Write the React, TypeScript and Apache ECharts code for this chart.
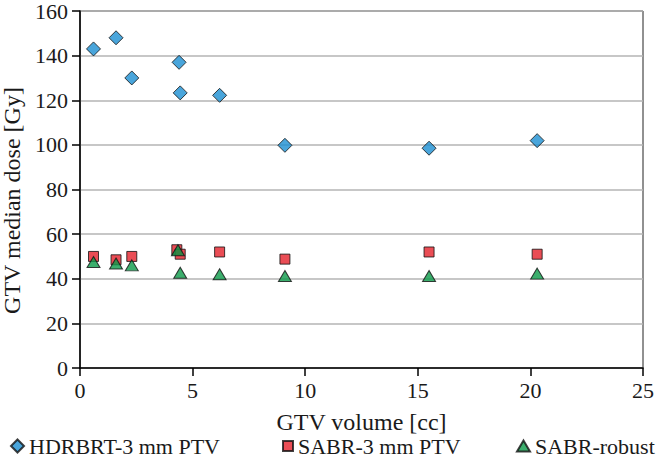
import React, { useEffect, useRef } from "react";
import * as echarts from "echarts";

const hdrX = [0.6, 1.6, 2.3, 4.4, 4.45, 6.2, 9.1, 15.5, 20.3];
const hdrY = [143, 148, 130, 137, 123.3, 122.2, 99.8, 98.5, 101.9];
const sabrX = [0.6, 1.6, 2.3, 4.3, 4.45, 6.2, 9.1, 15.5, 20.3];
const sabrY = [50, 48.5, 50, 53, 51, 52, 48.8, 52, 51];
const robustX = [0.6, 1.6, 2.3, 4.35, 4.45, 6.2, 9.1, 15.5, 20.3];
const robustY = [47.5, 46.8, 46, 52.8, 42.7, 42, 41.2, 41.2, 42.3];

const seriesNames = ["HDRBRT-3 mm PTV", "SABR-3 mm PTV", "SABR-robust"];
const xTitle = "GTV volume [cc]";
const yTitle = "GTV median dose [Gy]";

const FONT = "'Liberation Serif', serif";

export default function App() {
  const ref = useRef<HTMLDivElement>(null);
  useEffect(() => {
    document.body.style.margin = "0";
    const chart = echarts.init(ref.current!, null, { renderer: "svg" });
    const pts = (xs: number[], ys: number[]) => xs.map((x, i) => [x, ys[i]]);
    const legendText = { fontFamily: FONT, fontSize: 22, color: "#1a1a1a", lineHeight: 18 };
    chart.setOption({
      animation: false,
      backgroundColor: "#fff",
      textStyle: { fontFamily: FONT },
      grid: {
        left: 80,
        right: 21,
        top: 11,
        bottom: 91,
        show: true,
        borderColor: "#222",
        borderWidth: 1,
        containLabel: false,
        outerBoundsMode: "none",
      },
      xAxis: {
        type: "value",
        min: 0,
        max: 25,
        interval: 5,
        name: xTitle,
        nameLocation: "middle",
        nameGap: 42,
        nameTextStyle: { fontFamily: FONT, fontSize: 24, color: "#1a1a1a" },
        axisLine: { lineStyle: { color: "#000", width: 1.5 } },
        axisTick: { show: true, length: 8, lineStyle: { color: "#000", width: 1.5 } },
        axisLabel: { fontFamily: FONT, fontSize: 22, color: "#1a1a1a", margin: 11 },
        splitLine: { show: false },
      },
      yAxis: {
        type: "value",
        min: 0,
        max: 160,
        interval: 20,
        name: yTitle,
        nameLocation: "middle",
        nameGap: 54,
        nameTextStyle: {
          fontFamily: FONT,
          fontSize: 24,
          color: "#1a1a1a",
          padding: [0, 22, 0, 0],
        },
        axisLine: { show: true, lineStyle: { color: "#000", width: 1.5 } },
        axisTick: { show: true, length: 8, lineStyle: { color: "#000", width: 1.5 } },
        axisLabel: {
          fontFamily: FONT,
          fontSize: 22,
          lineHeight: 18,
          color: "#1a1a1a",
          margin: 12,
        },
        splitLine: { show: true, lineStyle: { color: "#b4b4b4", width: 1.5 } },
      },
      legend: [
        {
          data: [seriesNames[0]],
          left: 5,
          top: 430,
          itemWidth: 13,
          itemHeight: 13,
          textStyle: legendText,
        },
        {
          data: [seriesNames[1]],
          left: 277,
          top: 430,
          itemWidth: 10,
          itemHeight: 10,
          textStyle: legendText,
        },
        {
          data: [seriesNames[2]],
          left: 511,
          top: 430,
          itemWidth: 13,
          itemHeight: 11,
          textStyle: legendText,
        },
      ],
      series: [
        {
          name: seriesNames[0],
          type: "scatter",
          symbol: "diamond",
          symbolSize: 14,
          data: pts(hdrX, hdrY),
          itemStyle: { color: "#1b8fd2", borderColor: "#111", borderWidth: 1 },
        },
        {
          name: seriesNames[1],
          type: "scatter",
          symbol: "rect",
          symbolSize: 10,
          data: pts(sabrX, sabrY),
          itemStyle: { color: "#e5202a", borderColor: "#111", borderWidth: 1 },
        },
        {
          name: seriesNames[2],
          type: "scatter",
          symbol: "triangle",
          symbolSize: [13, 11],
          data: pts(robustX, robustY),
          itemStyle: { color: "#0b9a48", borderColor: "#111", borderWidth: 1 },
        },
      ],
    });
    return () => chart.dispose();
  }, []);
  return (
    <div
      ref={ref}
      style={{ position: "fixed", left: 0, top: 0, width: 664, height: 459 }}
    />
  );
}
